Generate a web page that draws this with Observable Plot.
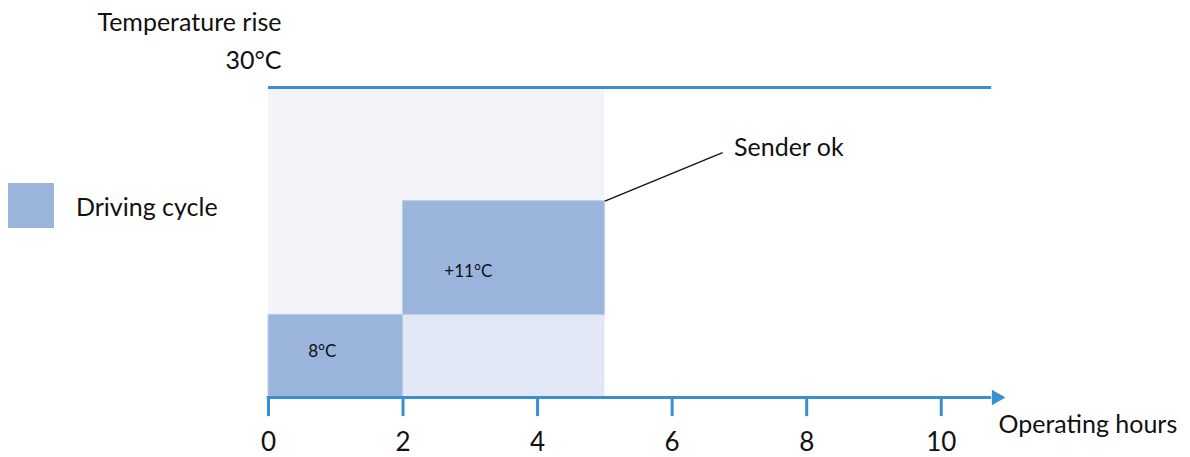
<!DOCTYPE html>
<html><head><meta charset="utf-8">
<script src="https://cdn.jsdelivr.net/npm/d3@7"></script>
<script src="https://cdn.jsdelivr.net/npm/@observablehq/plot@0.6"></script>
<style>
body{margin:0;background:#fff;font-family:Lato,"Open Sans",sans-serif;}
#wrap{position:relative;width:1190px;height:457px;}
#legend{position:absolute;left:8px;top:183px;display:flex;align-items:center;font-size:25px;color:#111;z-index:2;}
#legend .sw{width:46px;height:45px;background:#9ab4dc;margin-right:22px;}
</style></head>
<body><div id="wrap"><div id="legend"><div class="sw"></div><span id="legtext"></span></div></div>
<script>
const xTicks = [0, 2, 4, 6, 8, 10];
const yMax = 30;
const phaseStart = [0, 2];
const phaseEnd = [2, 5];
const phaseBase = [0, 8];
const phaseRise = [8, 11];
const phaseLabels = ["8°C", "+11°C"];
const windowEnd = 5;
const senderLabel = "Sender ok";
const xLabel = "Operating hours";
const yTitle = "Temperature rise";
const yMaxLabel = "30°C";
const legendLabel = "Driving cycle";

document.getElementById("legtext").textContent = legendLabel;

const phases = phaseStart.map((s, i) => ({
  x1: s, x2: phaseEnd[i], y1: phaseBase[i], y2: phaseBase[i] + phaseRise[i], label: phaseLabels[i]
}));
const total = phaseBase[1] + phaseRise[1];
const blue = "#3a8fd0";
const fontFam = "Lato, 'Open Sans', sans-serif";

const chart = Plot.plot({
  width: 1190, height: 457,
  marginLeft: 268, marginRight: 182, marginTop: 87, marginBottom: 60,
  x: {type: "linear", domain: [0, 11], axis: null},
  y: {type: "linear", domain: [0, yMax], axis: null},
  style: {fontFamily: fontFam, background: "transparent"},
  marks: [
    Plot.rect([{x1: 0, x2: windowEnd, y1: 0, y2: yMax}], {x1: "x1", x2: "x2", y1: "y1", y2: "y2", fill: "#f3f4f9"}),
    Plot.rect([{x1: phaseEnd[0], x2: windowEnd, y1: 0, y2: phaseBase[1]}], {x1: "x1", x2: "x2", y1: "y1", y2: "y2", fill: "#e1e7f4"}),
    Plot.rect(phases, {x1: "x1", x2: "x2", y1: "y1", y2: "y2", fill: "#9ab4dc", stroke: "#b9cbe7", strokeWidth: 1}),
    Plot.text([phases[0]], {x: 0.8, y: 4.45, text: "label", fontSize: 17, fill: "#111"}),
    Plot.text([phases[1]], {x: 2.97, y: 12.2, text: "label", fontSize: 17, fill: "#111"}),
    // top 30°C line
    Plot.ruleY([yMax], {x1: 0, x2: 10.75, stroke: blue, strokeWidth: 3}),
    // x axis ticks hanging below the axis
    Plot.ruleX(xTicks, {x: d => d, y1: 0, y2: -1.85, stroke: blue, strokeWidth: 3}),
    // x axis line + arrow
    Plot.ruleY([0], {x1: -0.02, x2: 10.75, stroke: blue, strokeWidth: 3}),
    Plot.dot([10.82], {x: d => d, y: 0, symbol: "triangle", r: 5.8, rotate: 90, fill: blue, stroke: "none"}),
    Plot.text(xTicks, {x: d => d, y: 0, dy: 45, text: d => String(d), fontSize: 26, fill: "#111"}),
    Plot.text([xLabel], {x: 10.85, y: 0, dy: 27, text: d => d, textAnchor: "start", fontSize: 25, fill: "#111"}),
    // y title
    Plot.text([yTitle], {x: 0, y: yMax, dx: 13, dy: -65, text: d => d, textAnchor: "end", fontSize: 25, fill: "#111"}),
    Plot.text([yMaxLabel], {x: 0, y: yMax, dx: 13, dy: -27, text: d => d, textAnchor: "end", fontSize: 25, fill: "#111"}),
    // sender ok annotation
    Plot.link([{x1: windowEnd, y1: total, x2: 6.75, y2: 23.7}], {x1: "x1", y1: "y1", x2: "x2", y2: "y2", stroke: "#111", strokeWidth: 1.3}),
    Plot.text([senderLabel], {x: 6.92, y: 24.1, text: d => d, textAnchor: "start", fontSize: 25, fill: "#111"})
  ]
});
document.getElementById("wrap").appendChild(chart);
chart.style.position = "absolute"; chart.style.left = "0"; chart.style.top = "0";
</script></body></html>
